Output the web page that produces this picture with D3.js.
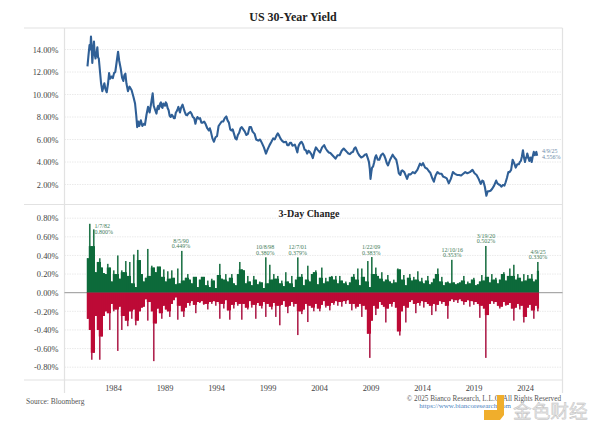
<!DOCTYPE html>
<html>
<head>
<meta charset="utf-8">
<script src="https://cdn.jsdelivr.net/npm/d3@7"></script>
<style>
  html, body { margin: 0; padding: 0; background: #fff; }
  text { font-family: "Liberation Serif", serif; }
</style>
</head>
<body>
<div id="chart"></div>
<script>
// yield line (decimal years, percent)
var yieldYears = [1981.52,1981.62,1981.72,1981.80,1981.86,1981.93,1981.99,1982.07,1982.15,1982.22,1982.30,1982.40,1982.48,1982.55,1982.62,1982.68,1982.74,1982.84,1982.96,1983.05,1983.16,1983.26,1983.39,1983.52,1983.62,1983.72,1983.85,1983.98,1984.10,1984.22,1984.34,1984.49,1984.60,1984.75,1984.88,1985.00,1985.10,1985.20,1985.30,1985.45,1985.60,1985.80,1985.98,1986.14,1986.25,1986.35,1986.45,1986.55,1986.70,1986.85,1987.00,1987.10,1987.25,1987.40,1987.55,1987.70,1987.85,1987.95,
  1988.10,1988.22,1988.30,1988.38,1988.45,1988.50,1988.58,1988.65,1988.72,1988.80,1988.88,1988.95,1989.05,1989.12,1989.20,1989.30,1989.40,1989.50,1989.60,1989.70,1989.80,1989.90,1990.00,1990.10,1990.18,1990.27,1990.35,1990.43,1990.50,1990.60,1990.75,1990.85,1990.95,1991.08,1991.20,1991.30,1991.50,1991.62,1991.75,1991.88,1992.00,1992.10,1992.20,1992.32,1992.45,1992.58,1992.70,1992.85,1993.00,1993.15,1993.30,1993.40,1993.50,1993.65,1993.80,1993.95,1994.10,1994.25,1994.40,1994.55,1994.70,1994.85,1995.00,1995.12,1995.25,1995.38,1995.50,1995.62,1995.75,1995.88,1996.00,1996.12,1996.25,1996.38,1996.50,1996.65,1996.80,1996.95,1997.10,1997.25,1997.40,1997.55,1997.75,1997.90,1998.10,1998.28,1998.45,1998.65,1998.85,1999.00,1999.20,1999.38,1999.55,1999.70,1999.85,2000.00,2000.10,2000.25,2000.40,2000.60,2000.80,2000.92,2001.05,2001.18,2001.30,2001.42,2001.55,2001.65,2001.75,2001.90,2001.98,2002.05,2002.18,2002.30,2002.45,2002.60,2002.72,2002.85,2002.98,2003.10,2003.25,2003.40,2003.55,2003.70,2003.85,2004.10,2004.30,2004.50,2004.65,2004.80,2004.95,2005.10,2005.35,2005.60,2005.80,2006.00,2006.20,2006.40,2006.55,2006.70,2006.85,2007.00,2007.15,2007.30,2007.42,2007.55,2007.75,2007.90,2008.10,2008.30,2008.45,2008.60,2008.75,2008.85,2008.93,2009.00,2009.08,2009.15,2009.25,2009.35,2009.45,2009.55,2009.70,2009.85,2010.02,2010.20,2010.32,2010.45,2010.58,2010.70,2010.90,2011.15,2011.32,2011.50,2011.62,2011.75,2011.90,2012.00,2012.10,2012.28,2012.55,2012.70,2012.90,2013.10,2013.30,2013.55,2013.80,2013.95,2014.10,2014.30,2014.50,2014.65,2014.80,2014.98,2015.15,2015.32,2015.50,2015.70,2015.90,2016.05,2016.20,2016.40,2016.60,2016.80,2017.00,2017.20,2017.40,2017.60,2017.80,2018.00,2018.20,2018.40,2018.65,2018.90,2019.10,2019.30,2019.50,2019.70,2019.85,2019.95,2020.10,2020.25,2020.38,2020.50,2020.65,2020.80,2021.00,2021.20,2021.32,2021.45,2021.58,2021.70,2021.85,2022.00,2022.12,2022.25,2022.38,2022.50,2022.65,2022.80,2022.95,2023.10,2023.25,2023.40,2023.50,2023.60,2023.70,2023.80,2023.90,2024.00,2024.08,2024.15,2024.22,2024.30,2024.42,2024.55,2024.65,2024.75,2024.85,2024.95,2025.02,2025.10,2025.18,2025.27];
var yieldValues = [12.5,13.5,14.4,14.0,15.15,14.1,12.8,13.9,14.7,13.6,13.2,13.7,14.2,13.3,13.2,12.6,12.0,11.0,10.3,10.6,11.0,10.5,10.2,11.0,11.9,11.4,11.6,11.45,11.9,12.0,12.8,13.8,13.0,12.3,11.5,11.2,11.7,11.85,11.0,10.3,10.7,10.4,9.8,9.2,8.2,7.1,7.6,7.2,7.7,7.2,7.4,7.3,8.2,8.9,8.4,9.2,10.1,9.0,
  8.6,8.3,8.8,9.0,8.7,8.9,9.2,9.3,8.9,8.8,9.2,9.1,9.0,9.3,9.2,8.8,8.6,8.1,8.0,8.2,8.1,7.9,7.9,8.4,8.5,8.7,8.9,8.6,8.4,8.8,9.1,8.8,8.5,8.2,8.15,8.3,8.45,8.3,8.0,7.9,7.4,7.8,8.0,7.85,7.9,7.5,7.5,7.6,7.35,7.0,6.8,7.0,6.7,6.1,5.8,6.2,6.3,7.2,7.4,7.6,7.6,7.9,8.05,7.7,7.5,6.9,6.8,6.9,6.5,6.1,6.0,6.4,6.6,7.0,7.1,6.9,6.7,6.4,6.5,7.1,7.1,6.7,6.5,6.0,5.9,6.0,5.7,5.3,4.75,5.1,5.5,5.8,6.1,6.0,6.3,6.55,6.4,6.1,5.9,5.75,5.8,5.5,5.5,5.7,5.7,5.45,5.5,5.55,5.3,4.85,5.3,5.5,5.7,5.8,5.55,5.1,5.05,4.75,5.0,4.9,4.7,4.35,4.9,5.3,5.1,4.85,5.3,5.5,5.2,5.0,4.85,4.8,4.55,4.3,4.6,4.6,5.0,5.2,5.05,4.9,4.75,4.7,4.85,4.9,5.2,5.3,4.85,4.6,4.4,4.5,4.65,4.7,4.3,4.0,3.4,2.5,3.1,3.5,3.6,3.95,4.4,4.6,4.2,4.2,4.6,4.75,4.6,4.3,3.9,3.7,4.2,4.65,4.4,4.2,3.7,3.0,2.85,3.2,3.25,3.1,2.5,2.9,2.9,3.1,3.0,3.3,3.85,3.7,3.9,3.5,3.4,3.2,3.05,2.6,2.25,2.8,3.1,2.95,2.95,2.7,2.65,2.55,2.1,2.5,3.1,2.95,2.85,2.85,2.8,2.95,3.1,3.0,3.1,3.3,3.0,2.85,2.5,2.05,2.35,2.3,1.8,1.0,1.4,1.4,1.45,1.6,1.9,2.35,2.1,2.0,1.95,1.8,1.95,1.9,2.2,2.6,3.1,3.1,3.3,4.2,3.9,3.5,3.8,3.8,4.0,4.1,4.5,5.05,4.4,4.0,4.4,4.4,4.75,4.5,4.1,4.4,4.0,4.5,4.9,4.6,4.7,4.9,4.55];

// 3-day change, biggest rise and biggest fall per bar (percentage points)
var changeStart = 1981.55;
var changeStep = 0.1942;
var upValues = [
  .37,.74,.50,.68,.22,.33,.37,.27,.21,.20,
  .31,.27,.12,.24,.20,.40,.15,.24,.22,.34,
  .18,.33,.10,.41,.06,.46,.35,.20,.12,.16,
  .47,.18,.29,.27,.22,.28,.28,.17,.25,.12,
  .23,.15,.24,.16,.09,.26,.10,.449,.13,.16,
  .20,.14,.10,.17,.17,.06,.14,.17,.17,.08,
  .13,.06,.15,.13,.05,.19,.31,.15,.14,.20,
  .12,.16,.20,.10,.08,.20,.33,.25,.24,.10,
  .18,.12,.08,.18,.14,.09,.12,.11,.05,.38,
  .10,.30,.14,.20,.15,.18,.10,.13,.07,.22,
  .12,.10,.18,.06,.14,.379,.17,.20,.08,.14,
  .29,.12,.20,.22,.24,.09,.16,.27,.10,.16,
  .12,.17,.18,.14,.18,.10,.18,.13,.10,.12,
  .08,.11,.17,.20,.14,.26,.08,.26,.17,.12,
  .34,.06,.383,.20,.27,.18,.15,.22,.12,.14,
  .19,.12,.10,.14,.11,.26,.25,.14,.19,.08,
  .16,.20,.13,.17,.14,.23,.12,.16,.10,.13,
  .18,.09,.11,.15,.20,.26,.12,.17,.08,.11,
  .12,.10,.353,.11,.09,.10,.11,.13,.18,.09,
  .12,.10,.14,.16,.08,.09,.12,.19,.13,.502,
  .17,.11,.20,.14,.16,.10,.14,.20,.22,.13,
  .18,.26,.18,.30,.14,.20,.16,.12,.20,.13,
  .19,.15,.20,.12,.14,.33];
var downValues = [
  .28,.40,.72,.645,.25,.40,.72,.47,.25,.20,
  .22,.40,.12,.20,.18,.625,.15,.40,.25,.30,
  .36,.20,.28,.18,.35,.30,.20,.16,.15,.07,
  .30,.10,.20,.735,.33,.17,.22,.28,.14,.18,
  .20,.26,.12,.08,.05,.29,.14,.20,.26,.16,
  .11,.14,.09,.13,.22,.10,.11,.09,.13,.12,
  .18,.10,.12,.09,.14,.10,.28,.12,.17,.08,
  .19,.29,.13,.17,.10,.14,.12,.29,.12,.16,
  .18,.09,.16,.13,.28,.11,.14,.17,.10,.26,
  .12,.15,.18,.11,.26,.14,.35,.13,.09,.15,
  .22,.14,.10,.15,.12,.455,.20,.23,.18,.12,
  .315,.14,.16,.20,.12,.17,.20,.13,.09,.16,
  .14,.19,.11,.13,.09,.14,.10,.15,.09,.12,
  .08,.12,.19,.12,.17,.15,.12,.26,.14,.18,
  .44,.70,.30,.14,.24,.17,.10,.13,.15,.32,
  .17,.12,.15,.10,.16,.415,.46,.20,.14,.32,
  .16,.10,.08,.12,.22,.11,.14,.09,.16,.10,
  .12,.14,.24,.12,.20,.13,.09,.12,.10,.14,
  .28,.09,.07,.10,.08,.11,.07,.09,.13,.10,
  .08,.15,.09,.13,.10,.12,.27,.14,.17,.70,
  .24,.12,.09,.12,.10,.14,.17,.15,.10,.14,
  .13,.11,.17,.30,.16,.12,.18,.14,.32,.26,
  .16,.13,.19,.28,.14,.20];

// labelled spikes
var noteDates = ["1/7/82","8/5/90","10/8/98","12/7/01","1/22/09","12/10/16","3/19/20","4/9/25"];
var noteText = ["0.800%","0.449%","0.380%","0.379%","0.383%","0.353%","0.502%","0.330%"];
var noteYears = [1982.02,1990.6,1998.77,2001.93,2009.06,2016.94,2020.21,2025.27];
var noteValues = [.80,.449,.38,.379,.383,.353,.502,.33];

var yieldTicks = [2,4,6,8,10,12,14];
var changeTicks = [-.8,-.6,-.4,-.2,0,.2,.4,.6,.8];
var yearTicks = [1984,1989,1994,1999,2004,2009,2014,2019,2024];

var width = 600, height = 431;
var left = 64.5, right = 562.5, top1 = 28, mid = 204.5, bottom = 380;

var svg = d3.select("#chart").append("svg")
    .attr("width", width)
    .attr("height", height)
    .style("display", "block");

var x = d3.scaleLinear().domain([1979.29, 2027.64]).range([left, right]);
var yYield = d3.scaleLinear().domain([2, 14]).range([184.5, 49.5]);
var yChange = d3.scaleLinear().domain([-.8, .8]).range([367.2, 218.2]);

// grid
svg.append("g").selectAll("line").data(yieldTicks).join("line")
    .attr("x1", left).attr("x2", right)
    .attr("y1", yYield).attr("y2", yYield)
    .attr("stroke", "#e4e4e4").attr("stroke-width", 0.8)
    .attr("stroke-dasharray", "1.5,1");
svg.append("g").selectAll("line").data(changeTicks.filter(function(d) { return d != 0; })).join("line")
    .attr("x1", left).attr("x2", right)
    .attr("y1", yChange).attr("y2", yChange)
    .attr("stroke", "#e4e4e4").attr("stroke-width", 0.8)
    .attr("stroke-dasharray", "1.5,1");

// frame
var frameColor = "#e2e2e2";
[top1, mid, bottom].forEach(function(y) {
  svg.append("line").attr("x1", 24).attr("x2", right)
      .attr("y1", y).attr("y2", y)
      .attr("stroke", frameColor).attr("stroke-width", 1.2);
});
[left, right].forEach(function(px) {
  svg.append("line").attr("x1", px).attr("x2", px)
      .attr("y1", top1).attr("y2", 393)
      .attr("stroke", frameColor).attr("stroke-width", 1.2);
});

// zero line
svg.append("line").attr("x1", left).attr("x2", right)
    .attr("y1", yChange(0)).attr("y2", yChange(0))
    .attr("stroke", "#8a8a8a").attr("stroke-width", 0.9);

// yield line
svg.append("path")
    .datum(d3.zip(yieldYears, yieldValues))
    .attr("fill", "none")
    .attr("stroke", "#2f5f96")
    .attr("stroke-width", 2.1)
    .attr("stroke-linejoin", "round")
    .attr("d", d3.line()
      .x(function(d) { return x(d[0]); })
      .y(function(d) { return yYield(d[1]); }));

function yearOf(i) { return changeStart + i * changeStep; }

// body = middle of the neighbours, drawn solid; spikes thinner and paler on top
function body(values, i) {
  return d3.median(values.slice(Math.max(0, i - 1), i + 2));
}

function drawBars(values, sign, spikeColor, bodyColor) {
  var barW = x(yearOf(1)) - x(yearOf(0));
  svg.append("g").selectAll("rect").data(values).join("rect")
      .attr("x", function(d, i) { return x(yearOf(i)) - 0.8; })
      .attr("width", 1.6)
      .attr("y", function(d) { return sign > 0 ? yChange(d) : yChange(0); })
      .attr("height", function(d) { return Math.abs(yChange(d) - yChange(0)); })
      .attr("fill", spikeColor);
  svg.append("g").selectAll("rect").data(values).join("rect")
      .attr("x", function(d, i) { return x(yearOf(i)) - barW / 2; })
      .attr("width", barW + 0.2)
      .attr("y", function(d, i) { return sign > 0 ? yChange(Math.min(d, body(values, i))) : yChange(0); })
      .attr("height", function(d, i) { return Math.abs(yChange(Math.min(d, body(values, i))) - yChange(0)); })
      .attr("fill", bodyColor);
}
drawBars(upValues, 1, "#23754a", "#0d6a3a");
drawBars(downValues, -1, "#b0244f", "#bd0a36");

// axes
var yAxis1 = svg.append("g")
    .attr("transform", "translate(" + (left - 3) + ",0)")
    .call(d3.axisLeft(yYield).tickValues(yieldTicks).tickSize(0)
      .tickFormat(function(d) { return d.toFixed(2) + "%"; }));
var yAxis2 = svg.append("g")
    .attr("transform", "translate(" + (left - 3) + ",0)")
    .call(d3.axisLeft(yChange).tickValues(changeTicks).tickSize(0)
      .tickFormat(function(d) { return d.toFixed(2) + "%"; }));
var xAxis = svg.append("g")
    .attr("transform", "translate(0,382)")
    .call(d3.axisBottom(x).tickValues(yearTicks).tickSize(0).tickFormat(d3.format("d")));
[yAxis1, yAxis2, xAxis].forEach(function(g) {
  g.select(".domain").remove();
  g.selectAll("text")
      .style("font-family", '"Liberation Serif", serif')
      .style("font-size", "8.4px")
      .attr("fill", "#444");
});

// titles
svg.append("text").attr("x", 293).attr("y", 21)
    .attr("text-anchor", "middle")
    .style("font-size", "12px").style("font-weight", "bold")
    .attr("fill", "#222").text("US 30-Year Yield");
svg.append("text").attr("x", 309).attr("y", 217)
    .attr("text-anchor", "middle")
    .style("font-size", "10px").style("font-weight", "bold")
    .attr("fill", "#222").text("3-Day Change");

// spike labels
noteDates.forEach(function(d, i) {
  var first = i == 0;
  var px = first ? x(noteYears[i]) + 2 : x(noteYears[i]);
  var py = yChange(noteValues[i]);
  var g = svg.append("g").attr("fill", "#3f7d5a")
      .attr("text-anchor", first ? "start" : "middle")
      .style("font-size", "6px");
  g.append("text").attr("x", px).attr("y", first ? py + 10 : py - 8).text(d);
  g.append("text").attr("x", px).attr("y", first ? py + 16 : py - 2.5).text(noteText[i]);
});

// last yield label
var lastYear = yieldYears[yieldYears.length - 1];
var lastG = svg.append("g").attr("fill", "#6f8aa8").style("font-size", "6px");
lastG.append("text").attr("x", x(lastYear) + 4).attr("y", 153).text("4/9/25");
lastG.append("text").attr("x", x(lastYear) + 4).attr("y", 158.5).text("4.556%");

// footer
svg.append("text").attr("x", 26).attr("y", 404)
    .style("font-size", "7.5px").attr("fill", "#555")
    .text("Source: Bloomberg");
svg.append("text").attr("x", 561).attr("y", 401)
    .attr("text-anchor", "end")
    .style("font-size", "7.2px").attr("fill", "#555")
    .text("© 2025 Bianco Research, L.L.C. All Rights Reserved");
svg.append("text").attr("x", 511).attr("y", 408)
    .attr("text-anchor", "end")
    .style("font-size", "7px").attr("fill", "#4a7fc0")
    .text("https://www.biancoresearch.com");

// watermark
svg.append("path")
    .attr("d", "M484 410h13v-15h7v20l-4 5h-16z")
    .attr("fill", "#f0ae2c");
svg.append("text").attr("x", 513).attr("y", 418)
    .style("font-family", '"Noto Sans CJK SC", sans-serif')
    .style("font-size", "18.7px")
    .attr("fill", "#e6e6e6")
    .attr("stroke", "#bbb").attr("stroke-width", 0.4)
    .text("金色财经");
</script>
</body>
</html>
